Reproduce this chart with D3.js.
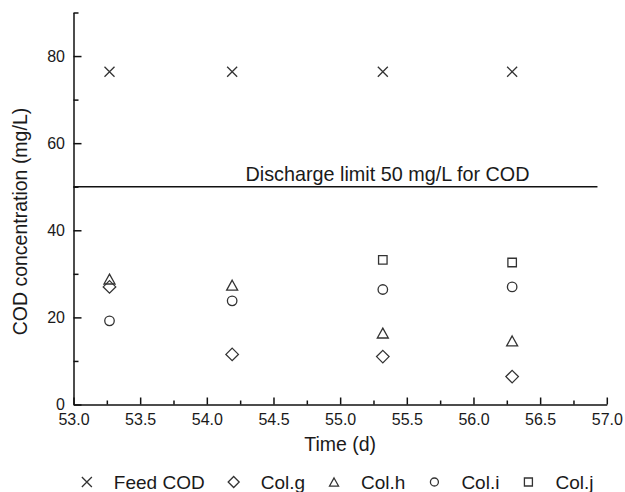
<!DOCTYPE html>
<html>
<head>
<meta charset="utf-8">
<script src="https://cdn.jsdelivr.net/npm/d3@7"></script>
<style>
  body { margin: 0; background: #fff; }
  svg { display: block; }
  text { font-family: "Liberation Sans", Arial, Helvetica, sans-serif; fill: #1a1a1a; }
</style>
</head>
<body>
<svg id="chart" width="625" height="492"></svg>
<script>
// Sampling days and measured COD (mg/L)
const days = [53.27, 54.19, 55.32, 56.29];
const feedCOD = [76.4, 76.4, 76.4, 76.4];
const colG = [27.0, 11.5, 11.0, 6.4];
const colH = [28.8, 27.4, 16.4, 14.6];
const colI = [19.2, 23.8, 26.4, 27.0];
const colJ = [null, null, 33.2, 32.6];

const seriesNames = ["Feed COD", "Col.g", "Col.h", "Col.i", "Col.j"];
const seriesShapes = ["cross", "diamond", "triangle", "circle", "square"];

const dischargeLimit = 50;
const limitSpan = [53.0, 56.93];
const limitLabel = "Discharge limit 50 mg/L for COD";
const limitLabelX = 54.29;

const xMajorTicks = [53.0, 53.5, 54.0, 54.5, 55.0, 55.5, 56.0, 56.5, 57.0];
const xMinorTicks = [53.25, 53.75, 54.25, 54.75, 55.25, 55.75, 56.25, 56.75];
const yMajorTicks = [0, 20, 40, 60, 80];
const yMinorTicks = [10, 30, 50, 70, 90];

const xTitle = "Time (d)";
const yTitle = "COD concentration (mg/L)";

// ---- layout ----
const svg = d3.select("#chart");
const x = d3.scaleLinear().domain([53, 57]).range([73.5, 606.8]);
const y = d3.scaleLinear().domain([0, 90]).range([404.5, 12.5]);

const ink = "#111";
const markInk = "#333";

// marker path builders, centred on the origin
const shapes = {
  cross: s => { const r = s / 2; return `M${-r},${-r}L${r},${r}M${-r},${r}L${r},${-r}`; },
  diamond: s => { const r = s / 2; return `M0,${-r}L${r},0L0,${r}L${-r},0Z`; },
  triangle: s => { const w = s, h = s * 0.9; return `M0,${-h / 2}L${w / 2},${h / 2}L${-w / 2},${h / 2}Z`; },
  circle: s => { const r = s / 2; return `M${r},0A${r},${r} 0 1,1 ${-r},0A${r},${r} 0 1,1 ${r},0Z`; },
  square: s => { const r = s / 2; return `M${-r},${-r}H${r}V${r}H${-r}Z`; }
};
const plotSize = { cross: 10, diamond: 12.5, triangle: 11, circle: 9.5, square: 8.5 };
const legendSize = { cross: 10, diamond: 11, triangle: 9, circle: 8, square: 8 };

// ---- axes ----
svg.append("g").attr("transform", `translate(0,${y(0)})`)
  .call(d3.axisBottom(x).tickValues(xMajorTicks).tickFormat(d3.format(".1f"))
    .tickSizeInner(-7).tickSizeOuter(0).tickPadding(9));
svg.append("g").attr("transform", `translate(0,${y(0)})`)
  .call(d3.axisBottom(x).tickValues(xMinorTicks).tickFormat("")
    .tickSizeInner(-4).tickSizeOuter(0))
  .call(g => g.select(".domain").remove());

svg.append("g").attr("transform", `translate(${x(53)},0)`)
  .call(d3.axisLeft(y).tickValues(yMajorTicks).tickFormat(d3.format("d"))
    .tickSizeInner(-8).tickSizeOuter(0).tickPadding(8.5));
svg.append("g").attr("transform", `translate(${x(53)},0)`)
  .call(d3.axisLeft(y).tickValues(yMinorTicks).tickFormat("")
    .tickSizeInner(-5).tickSizeOuter(0))
  .call(g => g.select(".domain").remove());

svg.selectAll(".domain, .tick line").attr("stroke", ink).attr("stroke-width", 1.5);
svg.selectAll(".tick text").attr("font-size", 16).attr("fill", "#1a1a1a")
  .attr("font-family", "\"Liberation Sans\", Arial, sans-serif");

// axis titles
svg.append("text")
  .attr("x", (x.range()[0] + x.range()[1]) / 2).attr("y", 451)
  .attr("text-anchor", "middle").attr("font-size", 19.5)
  .text(xTitle);
svg.append("text")
  .attr("transform", `translate(20,${y(42)}) rotate(-90)`)
  .attr("text-anchor", "middle").attr("dy", "0.35em").attr("font-size", 19.5)
  .text(yTitle);

// ---- discharge limit ----
svg.append("line")
  .attr("x1", x(limitSpan[0])).attr("x2", x(limitSpan[1]))
  .attr("y1", y(dischargeLimit)).attr("y2", y(dischargeLimit))
  .attr("stroke", ink).attr("stroke-width", 1.5);
svg.append("text")
  .attr("x", x(limitLabelX)).attr("y", y(dischargeLimit) - 6)
  .attr("font-size", 19.8)
  .text(limitLabel);

// ---- series markers ----
const seriesValues = [feedCOD, colG, colH, colI, colJ];
seriesValues.forEach((vals, i) => {
  const shape = seriesShapes[i];
  svg.append("g").selectAll("path")
    .data(days.map((d, j) => ({ t: d, v: vals[j] })).filter(p => p.v != null))
    .join("path")
    .attr("transform", p => `translate(${x(p.t)},${y(p.v)})`)
    .attr("d", shapes[shape](plotSize[shape]))
    .attr("fill", "none").attr("stroke", markInk).attr("stroke-width", 1.3);
});

// ---- legend, centred under the plot ----
const legend = svg.append("g").attr("transform", "translate(0,482)");
const textGap = 27, itemGap = 29;
const items = [];
let cursor = 0;
seriesNames.forEach((name, i) => {
  const g = legend.append("g");
  const shape = seriesShapes[i];
  g.append("path").attr("d", shapes[shape](legendSize[shape]))
    .attr("fill", "none").attr("stroke", markInk).attr("stroke-width", 1.3);
  const t = g.append("text").attr("x", textGap).attr("y", 7).attr("font-size", 19).text(name);
  const w = t.node().getComputedTextLength();
  items.push({ g, offset: cursor });
  cursor += textGap + w + itemGap;
});
const totalW = cursor - itemGap;
const start = (x.range()[0] + x.range()[1]) / 2 - totalW / 2;
items.forEach(it => it.g.attr("transform", `translate(${start + it.offset},0)`));
</script>
</body>
</html>
